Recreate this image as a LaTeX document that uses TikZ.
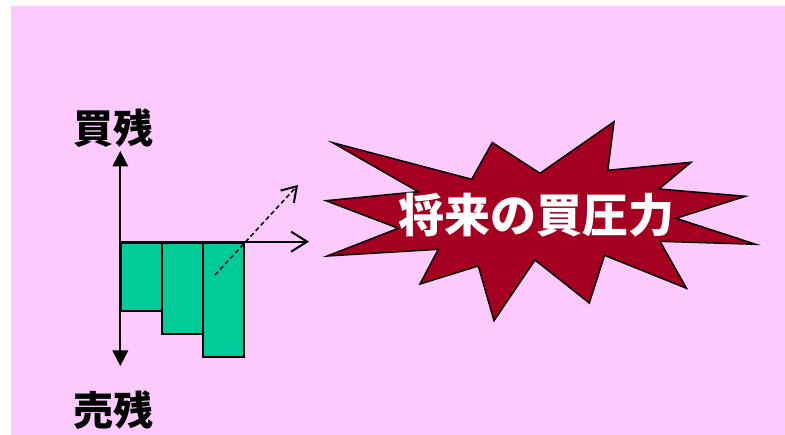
\documentclass[tikz,border=0pt]{standalone}
\usepackage{fontspec}
\newfontfamily\cjk{Noto Sans CJK JP}
\usetikzlibrary{arrows.meta}
\definecolor{bgpink}{RGB}{252,202,252}
\definecolor{bargreen}{RGB}{0,204,153}
\definecolor{burstred}{RGB}{165,0,33}
\begin{document}
\begin{tikzpicture}[x=1pt,y=-1pt,
  lbl/.style={inner sep=0pt,font=\cjk\bfseries\fontsize{40}{40}\selectfont},
  barbox/.style={draw=black,line width=2pt,fill=bargreen,minimum width=41pt,inner sep=0pt,anchor=north west},
  axis/.style={line width=2pt},
  openarrow/.style={line width=2pt,-{Straight Barb[length=16pt,width=20pt,line width=2pt]}}]
\useasboundingbox (0,0) rectangle (785,435);
\fill[bgpink] (11,6) rectangle (785,435);
% labels
\node[lbl] (buy) at (113,128) {買残};
\node[lbl] (sell) at (113,410) {売残};
% axes
\coordinate (vtop) at (120.3,151);
\coordinate (vbot) at (120.3,366);
\coordinate (origin) at (120.3,241.7);
\coordinate (hend) at (309,241.7);
% bars
\node[barbox,minimum height=68pt] (bar1) at (120.3,241.7) {};
\node[barbox,minimum height=91pt] (bar2) at (161.3,241.7) {};
\node[barbox,minimum height=114pt] (bar3) at (202.3,241.7) {};
\draw[axis,{Triangle[length=15.5pt,width=15.5pt]}-{Triangle[length=15.5pt,width=15.5pt]}] (vtop) -- (vbot);
\draw[openarrow] (origin) -- (hend);
% dashed arrow
\coordinate (dstart) at (215,275);
\coordinate (dend) at (298,185);
\draw[line width=1.5pt,dash pattern=on 4.5pt off 3pt,-{Straight Barb[length=14pt,width=18pt,line width=2pt]}] (dstart) -- (dend);
% starburst
\draw[fill=burstred,draw=black,line width=1.5pt,line join=miter]
 (332.7,142.7) -- (471.7,179.3) -- (492.3,142.5) -- (540,173.3) -- (614,121.7)
 -- (607.8,170.3) -- (691,162.3) -- (659,189) -- (745.5,196.3) -- (676,218.3)
 -- (755.7,244.3) -- (660,241.3) -- (686.5,288.3) -- (604.5,255.3) -- (589.3,303)
 -- (535,260) -- (494,320.7) -- (478.3,266) -- (420,284) -- (438.3,249.3)
 -- (327.3,256) -- (398.3,228.3) -- (326,200.7) -- (418.3,191.7) -- cycle;
\node[inner sep=0pt,text=white,font=\cjk\bfseries\fontsize{46}{46}\selectfont] (burst) at (536,215) {将来の買圧力};
\end{tikzpicture}
\end{document}
